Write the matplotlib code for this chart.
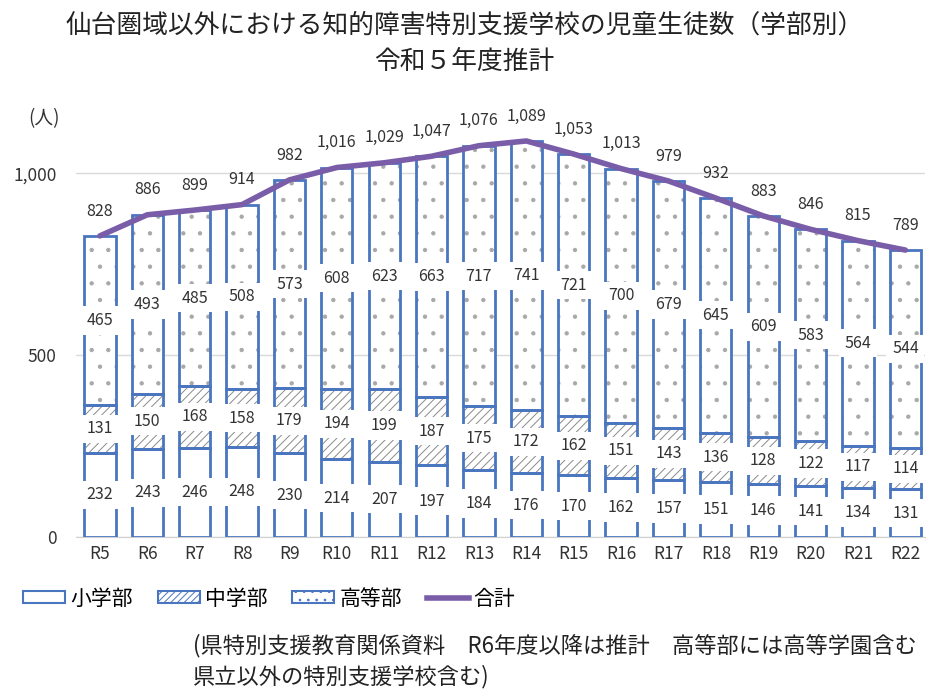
import matplotlib
matplotlib.use("Agg")
import matplotlib.pyplot as plt
from matplotlib.patches import Patch
from matplotlib.lines import Line2D
import numpy as np

plt.rcParams['font.family'] = ['Noto Sans CJK JP', 'DejaVu Sans']

years = ["R5", "R6", "R7", "R8", "R9", "R10", "R11", "R12", "R13", "R14",
         "R15", "R16", "R17", "R18", "R19", "R20", "R21", "R22"]
elementary = [232, 243, 246, 248, 230, 214, 207, 197, 184, 176, 170, 162, 157, 151, 146, 141, 134, 131]
junior = [131, 150, 168, 158, 179, 194, 199, 187, 175, 172, 162, 151, 143, 136, 128, 122, 117, 114]
high = [465, 493, 485, 508, 573, 608, 623, 663, 717, 741, 721, 700, 679, 645, 609, 583, 564, 544]
total = [828, 886, 899, 914, 982, 1016, 1029, 1047, 1076, 1089, 1053, 1013, 979, 932, 883, 846, 815, 789]

blue = "#4A76C0"
hatch_gray = "#8a8a8a"
dot_gray = "#a8a8a8"
purple = "#7A5DA8"

fig = plt.figure(figsize=(9.29, 6.89), dpi=100)
ax = fig.add_axes([0.082, 0.2206, 0.914, 0.607])

x = np.arange(len(years))
w = 0.66
e = np.array(elementary)
j = np.array(junior)
h = np.array(high)

plt.rcParams['hatch.linewidth'] = 0.7
# hatch layers
ax.bar(x, j, w, bottom=e, facecolor="white", edgecolor=hatch_gray, hatch="////", linewidth=0, zorder=2)
ax.bar(x, h, w, bottom=e + j, facecolor="white", edgecolor=dot_gray, hatch=".", linewidth=0, zorder=2)
ax.bar(x, e, w, facecolor="white", edgecolor="none", linewidth=0, zorder=2)
# outlines
for bot, val in [(np.zeros_like(e), e), (e, j), (e + j, h)]:
    ax.bar(x, val, w, bottom=bot, facecolor="none", edgecolor=blue, linewidth=2.0, zorder=3)

ax.plot(x, total, color=purple, linewidth=4, zorder=4, solid_capstyle="round")

lab_kw = dict(ha="center", va="center", fontsize=11.5, color="#333333", zorder=5,
              bbox=dict(facecolor="white", edgecolor="none", pad=4))
for i in range(len(years)):
    ax.text(x[i], e[i] / 2, str(e[i]), **lab_kw)
    ax.text(x[i], e[i] + j[i] / 2, str(j[i]), **lab_kw)
    ax.text(x[i], e[i] + j[i] + h[i] / 2, str(h[i]), **lab_kw)
    ax.text(x[i], total[i] + 45, f"{total[i]:,}", ha="center", va="bottom", fontsize=11.5,
            color="#333333", zorder=5)

ax.set_ylim(0, 1150)
ax.set_xlim(-0.5, 17.42)
ax.set_yticks([0, 500, 1000])
ax.set_yticklabels(["0", "500", "1,000"], fontsize=12.5, color="#333333")
ax.set_xticks(x)
ax.set_xticklabels(years, fontsize=12.5, color="#333333")
ax.tick_params(axis="both", length=0)
ax.tick_params(axis="y", pad=14)
ax.tick_params(axis="x", pad=6)
for s in ["top", "right", "left"]:
    ax.spines[s].set_visible(False)
ax.spines["bottom"].set_color("#d0d0d0")
ax.yaxis.grid(True, color="#d9d9d9", linewidth=1)
ax.set_axisbelow(True)

fig.text(0.047, 0.828, "(人)", fontsize=13.5, color="#333333", ha="center", va="center")

fig.text(0.5, 0.963, "仙台圏域以外における知的障害特別支援学校の児童生徒数（学部別）",
         fontsize=18.5, ha="center", va="center", color="#222222")
fig.text(0.5, 0.910, "令和５年度推計", fontsize=18.5, ha="center", va="center", color="#222222")

handles = [
    Patch(facecolor="white", edgecolor=blue, linewidth=1.5),
    Patch(facecolor="white", edgecolor=blue, hatch="/////", linewidth=1.5),
    Patch(facecolor="white", edgecolor=blue, hatch="..", linewidth=1.5),
    Line2D([0], [0], color=purple, linewidth=4),
]
leg = fig.legend(handles, ["小学部", "中学部", "高等部", "合計"], loc="center",
                 bbox_to_anchor=(0.29, 0.131), ncol=4, frameon=False, fontsize=15,
                 handlelength=2.0, handleheight=0.5, handletextpad=0.25, columnspacing=1.2)

fig.text(0.208, 0.063, "(県特別支援教育関係資料　R6年度以降は推計　高等部には高等学園含む",
         fontsize=16, ha="left", va="center", color="#222222")
fig.text(0.208, 0.018, "県立以外の特別支援学校含む)", fontsize=16, ha="left", va="center",
         color="#222222")

fig.savefig("out.png", dpi=100, facecolor="white")
